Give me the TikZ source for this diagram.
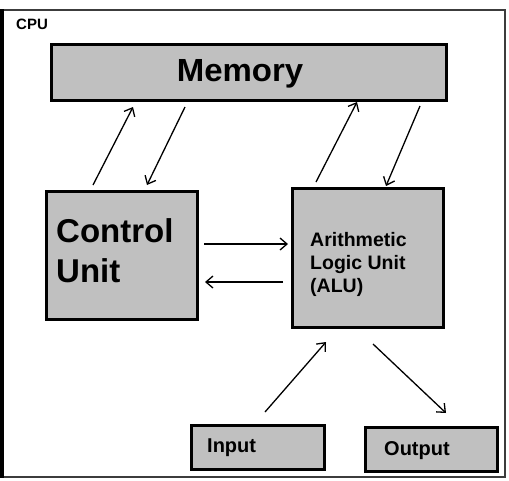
\documentclass[tikz,border=0pt]{standalone}
\usepackage{fontspec}
\setmainfont{Liberation Sans}
\usetikzlibrary{arrows.meta}
\begin{document}
\begin{tikzpicture}[x=1pt,y=-1pt,
  box/.style={draw=black,line width=3pt,fill=boxgray,rectangle,inner sep=0pt,anchor=north west},
  arr/.style={line width=1.3pt,-{Straight Barb[length=7pt,width=12pt,line width=1.3pt]}},
  lbl/.style={font=\bfseries,inner sep=0pt,align=left,anchor=west}]
\definecolor{boxgray}{RGB}{192,192,192}
\definecolor{framegray}{RGB}{60,60,60}
\useasboundingbox (0,0) rectangle (509,480);
\fill[white] (0,0) rectangle (509,480);
% outer frame
\draw[line width=2pt,framegray] (2,10) rectangle (505,477);
\draw[line width=4pt,black] (2,9) -- (2,478);
\node[lbl,font=\bfseries\fontsize{15}{16}\selectfont] (cpu) at (16,24) {CPU};
% boxes
\node[box,minimum width=395pt,minimum height=56pt] (mem) at (50,43) {};
\node[font=\bfseries\fontsize{32}{36}\selectfont,inner sep=0pt,xscale=1.03] (memt) at (240,74) {Memory};
\node[box,minimum width=151pt,minimum height=128pt] (cu) at (45,190) {};
\node[lbl,font=\bfseries\fontsize{33}{40}\selectfont] (cut) at (56,251) {Control\\Unit};
\node[box,minimum width=151pt,minimum height=139pt] (alu) at (291,187) {};
\node[lbl,font=\bfseries\fontsize{19.5}{23}\selectfont] (alut) at (310,264) {Arithmetic\\Logic Unit\\(ALU)};
\node[box,minimum width=133pt,minimum height=44pt] (in) at (190,424) {};
\node[lbl,font=\bfseries\fontsize{20}{22}\selectfont] (int) at (207,448) {Input};
\node[box,minimum width=132pt,minimum height=44pt] (out) at (364,426) {};
\node[lbl,font=\bfseries\fontsize{20}{22}\selectfont] (outt) at (384,451) {Output};
% arrow endpoints
\coordinate (a1s) at (93,185);  \coordinate (a1e) at (133,107);
\coordinate (a2s) at (185,107); \coordinate (a2e) at (147,185);
\coordinate (a3s) at (316,182); \coordinate (a3e) at (357,102);
\coordinate (a4s) at (420,106); \coordinate (a4e) at (386,186);
\coordinate (a5s) at (204,244); \coordinate (a5e) at (288,244);
\coordinate (a6s) at (283,282); \coordinate (a6e) at (205,282);
\coordinate (a7s) at (265,412); \coordinate (a7e) at (326,342);
\coordinate (a8s) at (373,344); \coordinate (a8e) at (446,413);
\draw[arr] (a1s) -- (a1e);
\draw[arr] (a2s) -- (a2e);
\draw[arr] (a3s) -- (a3e);
\draw[arr] (a4s) -- (a4e);
\draw[arr] (a5s) -- (a5e);
\draw[arr] (a6s) -- (a6e);
\draw[arr] (a7s) -- (a7e);
\draw[arr] (a8s) -- (a8e);
\end{tikzpicture}
\end{document}
